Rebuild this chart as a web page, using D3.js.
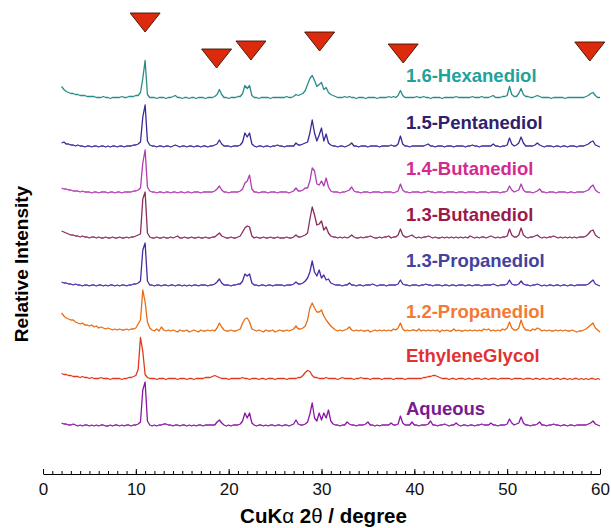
<!DOCTYPE html>
<html>
<head>
<meta charset="utf-8">
<script src="https://cdn.jsdelivr.net/npm/d3@7"></script>
<style>
  body { margin: 0; background: #fff; }
  svg { display: block; font-family: "Liberation Sans", Arial, Helvetica, sans-serif; }
</style>
</head>
<body>
<svg id="chart" width="611" height="528"></svg>
<script>
// scan grid: 2 to 60 degrees, every 0.25
const start = 2, step = 0.25

const names = ['Aqueous', 'EthyleneGlycol', '1.2-Propanediol', '1.3-Propanediol',
    '1.3-Butanediol', '1.4-Butanediol', '1.5-Pentanediol', '1.6-Hexanediol']

// vertical stacking offset of each trace (intensity units)
const offsets = [48, 94.5, 142, 188, 235, 281, 327, 375.5]

const aqueous = [
    3,2,2,1,1,2,1,0, 1,0,1,1,0,1,0,1, 0,1,1,0,0,1,0,1, 1,0,1,0,1,1,0,1,
    1,2,4,36,44,5,1,0, 1,0,1,1,2,2,1,1, 0,1,1,0,1,1,0,1, 0,1,0,1,1,0,1,1,
    1,1,1,4,6,3,1,0, 1,0,1,1,1,2,5,13, 8,13,3,1,0,1,1,0, 1,0,1,1,0,1,1,0,
    1,1,0,1,2,6,2,1, 1,2,4,12,23,8,5,13, 6,13,8,16,5,2,1,1, 0,1,1,4,2,1,1,0,
    1,1,1,2,4,1,1,0, 1,0,1,1,1,1,3,1, 1,2,10,3,1,1,1,4, 1,1,0,1,1,1,2,5,
    1,1,0,1,1,2,1,0, 1,1,3,1,0,1,1,0, 1,1,0,1,1,2,1,1, 1,3,1,1,0,1,1,1,
    2,7,3,1,2,3,9,3, 1,1,0,1,1,2,4,1, 1,0,1,1,2,1,1,0, 1,1,0,1,1,0,1,1,
    1,1,1,2,3,5,2,1, 0]

const ethyleneGlycol = [
    6,5,5,4,4,3,3,3, 2,3,2,2,1,2,1,1, 1,2,1,1,1,0,1,1, 1,1,0,1,1,2,2,3,
    4,10,42,28,5,2,1,1, 1,0,1,1,1,0,1,1, 1,1,0,1,1,1,0,1, 1,0,1,1,1,1,2,2,
    2,3,4,3,2,1,1,1, 0,1,1,1,1,1,2,1, 1,0,1,1,1,0,1,1, 0,1,1,1,0,1,1,1,
    1,0,1,1,1,1,2,2, 4,7,9,8,4,2,2,1, 1,1,2,1,1,1,1,0, 1,2,1,1,1,1,0,1,
    1,2,1,1,1,0,1,1, 1,1,0,1,1,1,1,0, 1,1,1,1,0,1,1,1, 1,1,1,1,2,2,3,3,
    4,4,3,2,1,1,1,0, 1,1,0,1,1,1,0,1, 1,0,1,1,1,0,1,1, 0,1,1,1,0,1,1,1,
    1,1,0,1,1,1,1,0, 1,1,1,0,1,1,0,1, 1,0,1,1,0,1,1,0, 1,1,0,1,0,1,1,0,
    1,0,1,0,1,1,0,1, 0]

const propanediol12 = [
    19,16,14,13,12,12,10,9, 8,9,7,7,6,7,5,6, 4,5,4,3,4,3,2,3, 2,3,2,2,3,2,3,3,
    4,8,12,42,30,10,4,2, 1,3,1,5,2,1,2,1, 2,1,0,2,1,1,2,0, 1,2,1,0,2,1,1,2,
    1,2,1,4,9,5,2,1, 1,2,1,1,2,3,9,13, 14,10,3,2,1,2,1,0, 2,1,1,2,0,1,2,1,
    1,2,1,2,3,6,3,3, 4,6,12,24,29,24,20,20, 22,16,12,9,6,4,2,1, 2,1,2,3,5,2,1,2,
    1,2,1,1,2,0,1,2, 1,2,1,2,1,2,1,3, 2,4,9,3,1,2,1,2, 2,1,3,1,2,1,2,1,
    2,1,2,0,2,1,2,1, 1,3,1,2,1,1,2,1, 2,1,2,1,2,1,3,2, 3,1,2,1,2,1,3,2,
    4,10,4,2,2,4,12,5, 2,2,1,3,2,4,3,1, 2,1,2,1,1,2,1,2, 1,2,1,1,2,1,0,1,
    1,2,3,5,7,9,4,2, 0]

const propanediol13 = [
    4,3,3,2,2,1,2,1, 1,0,1,1,0,1,1,0, 1,1,0,1,0,1,1,0, 1,0,1,1,0,1,1,2,
    2,3,5,36,43,5,1,1, 0,1,1,0,1,1,0,1, 1,0,1,1,0,1,0,1, 0,1,1,0,1,1,1,0,
    1,1,2,4,7,3,1,1, 1,0,1,1,2,2,5,12, 10,12,3,1,1,0,1,1, 0,1,1,0,1,1,1,1,
    0,1,1,1,2,4,2,2, 3,5,8,14,25,14,10,16, 8,11,6,7,3,2,1,1, 1,0,1,1,3,1,1,0,
    1,1,0,1,1,1,2,1, 0,1,1,1,0,1,1,1, 1,2,6,2,1,1,0,1, 1,1,0,1,1,2,1,1,
    0,1,1,1,0,1,1,0, 1,1,0,1,1,1,0,1, 1,0,1,1,1,0,1,1, 1,1,2,1,0,1,1,1,
    2,6,2,1,1,2,5,2, 1,1,0,1,1,2,1,0, 1,0,1,1,0,1,1,0, 1,1,0,1,1,0,1,1,
    1,1,1,2,4,6,2,1, 0]

const butanediol13 = [
    8,7,6,5,4,4,3,3, 2,3,2,2,1,2,2,1, 2,1,1,2,1,1,2,1, 1,2,1,1,2,1,2,2,
    3,4,5,40,47,6,2,1, 1,2,1,1,2,1,1,2, 1,2,3,1,1,2,1,1, 2,1,1,2,1,1,2,1,
    1,2,2,4,6,3,2,1, 1,2,1,1,2,3,7,11, 13,12,3,1,2,1,1,2, 1,1,2,1,1,2,1,1,
    1,2,1,1,2,4,2,2, 3,4,6,20,32,24,14,15, 18,9,12,6,3,2,2,1, 2,1,2,1,2,4,2,1,
    1,2,1,2,2,3,2,1, 1,2,1,2,2,3,1,2, 2,4,10,4,2,2,3,4, 2,1,2,1,2,2,3,2,
    1,2,1,1,2,1,2,1, 2,1,2,1,2,1,2,1, 3,2,1,2,1,2,2,1, 2,3,2,1,2,1,2,2,
    3,10,4,2,2,4,11,4, 2,1,2,2,3,4,2,1, 2,1,2,2,3,2,1,2, 1,2,1,2,1,2,1,2,
    2,2,3,5,8,9,4,2, 1]

const butanediol14 = [
    5,4,4,3,3,2,2,2, 1,2,1,1,1,0,1,1, 0,1,1,1,0,1,1,0, 1,1,0,1,1,1,1,2,
    2,3,5,30,43,6,2,1, 1,0,1,1,0,1,1,0, 1,1,0,1,1,0,1,1, 0,1,1,1,0,1,1,1,
    1,1,2,4,7,3,1,1, 0,1,1,1,1,2,4,10, 12,18,4,1,1,0,1,1, 1,0,1,1,1,0,1,1,
    1,1,0,1,2,5,2,2, 3,5,5,12,25,22,9,8, 12,7,15,6,2,1,1,1, 0,1,1,2,3,6,2,1,
    1,0,1,1,1,0,1,1, 1,1,0,1,1,1,1,0, 1,2,9,3,1,1,0,1, 1,1,1,0,1,1,2,1,
    1,0,1,1,1,0,1,1, 1,1,0,1,1,1,0,1, 1,1,1,0,1,1,1,1, 0,1,1,1,1,0,1,1,
    2,7,3,1,2,3,9,3, 1,1,1,0,1,2,4,1, 1,0,1,1,1,0,1,1, 1,1,0,1,1,0,1,1,
    1,1,2,3,6,8,3,1, 0]

const pentanediol15 = [
    4,5,3,3,2,2,1,2, 1,1,0,1,1,0,1,1, 0,1,1,0,1,0,1,1, 0,1,1,0,1,1,1,2,
    2,3,5,30,42,6,2,1, 1,0,1,1,0,1,1,0, 1,2,1,0,1,1,0,1, 1,0,1,1,0,1,1,0,
    1,1,2,3,7,3,1,1, 1,0,1,1,1,2,5,14, 10,14,3,1,0,1,1,0, 1,1,0,1,1,2,1,1,
    0,1,1,1,1,4,2,2, 3,4,5,14,27,14,6,12, 19,6,13,4,2,1,1,0, 1,1,0,1,2,4,1,1,
    0,1,1,1,0,1,1,1, 1,0,1,1,1,1,2,1, 1,3,11,3,1,1,0,1, 1,1,1,1,1,2,3,1,
    1,0,1,1,1,0,1,1, 1,0,1,1,1,1,0,1, 1,2,1,1,0,1,1,1, 1,1,3,1,1,0,1,1,
    2,9,3,1,2,4,10,4, 1,1,1,1,2,4,2,1, 0,1,1,1,0,1,1,0, 1,1,0,1,1,1,0,1,
    1,1,2,3,5,6,2,1, 0]

const hexanediol16 = [
    12,9,7,6,5,5,4,4, 3,3,3,2,2,2,2,1, 1,1,2,1,1,0,1,1, 1,1,2,1,1,2,2,2,
    3,3,6,20,38,4,1,1, 1,0,1,1,1,0,1,1, 2,3,1,1,0,1,1,0, 1,1,0,1,1,1,0,1,
    1,1,2,4,9,4,1,1, 0,1,1,1,2,2,5,13, 10,13,3,1,1,0,1,1, 1,1,0,1,1,1,1,1,
    1,2,1,1,2,4,3,4, 5,8,14,20,23,18,12,14, 16,9,11,6,4,3,2,1, 1,1,2,1,2,1,1,0,
    1,1,1,0,1,1,1,1, 0,1,1,1,1,2,1,2, 1,3,8,3,1,1,1,1, 1,2,1,1,2,1,1,0,
    1,1,1,1,0,1,1,1, 1,1,2,1,1,1,1,1, 1,2,1,1,1,2,1,1, 1,2,3,1,1,1,2,2,
    3,12,4,2,2,5,10,4, 2,2,1,1,2,3,2,1, 1,1,1,0,1,1,1,1, 1,0,1,1,1,1,1,1,
    1,1,2,3,5,6,3,1, 1]

const traces = [aqueous, ethyleneGlycol, propanediol12, propanediol13,
    butanediol13, butanediol14, pentanediol15, hexanediol16]

// reflection markers: angle and tip level
const markerAngles = [11, 18.7, 22.4, 29.8, 38.8, 58.9]
const markerLevels = [442, 406, 414, 423, 411, 413]

const xTicks = [0, 10, 20, 30, 40, 50, 60]

const lineColors = ['#8a16a6', '#e2381c', '#ea6c12', '#4a2aa6', '#8c2c5e', '#b23ab2', '#3a2a96', '#2a8c88']
const labelColors = ['#7a1a90', '#e03232', '#f27a34', '#4242a0', '#9c1a4a', '#d42a90', '#2e206e', '#1ea29c']
const labelLift = [17.7, 24.5, 20.7, 26, 24.3, 25, 25, 23.5]

const
    margin = { left: 43, right: 11 },
    width = 611,
    height = 528,
    axisY = 474

const x = d3.scaleLinear()
    .domain([0, 60])
    .range([margin.left, width - margin.right])

const y = d3.scaleLinear()
    .domain([0, 450])
    .range([axisY, 24])

const svg = d3.select('#chart')
    .attr('viewBox', [0, 0, width, height])

// traces
const line = d3.line()
    .x((d, i) => x(start + i * step))
    .y(d => y(d))

svg.append('g')
    .selectAll('path')
    .data(traces)
    .enter().append('path')
    .attr('d', (d, k) => line(d.map(v => v + offsets[k])))
    .attr('fill', 'none')
    .attr('stroke', (d, k) => lineColors[k])
    .attr('stroke-width', 1.3)
    .attr('stroke-linejoin', 'round')

// labels
svg.append('g')
    .selectAll('text')
    .data(names)
    .enter().append('text')
    .attr('x', x(39.1))
    .attr('y', (d, k) => y(offsets[k] + labelLift[k]) + 6.5)
    .attr('fill', (d, k) => labelColors[k])
    .attr('font-size', 18.5)
    .attr('font-weight', 'bold')
    .text(d => d)

// markers
svg.append('g')
    .selectAll('path')
    .data(markerAngles)
    .enter().append('path')
    .attr('d', (d, i) => {
        const tx = x(d), ty = y(markerLevels[i])
        return `M${tx},${ty}L${tx - 15},${ty - 19}L${tx + 15},${ty - 19}Z`
    })
    .attr('fill', '#dc2a0c')
    .attr('stroke', '#3a1208')
    .attr('stroke-width', 0.9)

// x axis
svg.append('g')
    .attr('transform', `translate(0,${axisY})`)
    .call(d3.axisBottom(x).ticks(60).tickSize(-3).tickSizeOuter(0).tickFormat(''))
    .call(g => g.select('.domain').remove())

svg.append('g')
    .attr('transform', `translate(0,${axisY})`)
    .call(d3.axisBottom(x).tickValues(xTicks).tickSize(-5).tickSizeOuter(0).tickPadding(9))
    .call(g => g.selectAll('text')
        .attr('font-size', 17)
        .attr('font-family', '"Liberation Sans", Arial, sans-serif')
        .attr('fill', '#111'))

// axis titles
const title = svg.append('text')
    .attr('x', (x(0) + x(60)) / 2 + 2)
    .attr('y', 523)
    .attr('text-anchor', 'middle')
    .attr('font-size', 20.5)
    .attr('font-weight', 'bold')
title.append('tspan').text('CuK')
title.append('tspan').attr('font-weight', 'normal').text('α')
title.append('tspan').text(' 2')
title.append('tspan').attr('font-weight', 'normal').text('θ')
title.append('tspan').text(' / degree')

svg.append('text')
    .attr('transform', 'translate(28,264) rotate(-90)')
    .attr('text-anchor', 'middle')
    .attr('font-size', 19)
    .attr('font-weight', 'bold')
    .text('Relative Intensity')
</script>
</body>
</html>
